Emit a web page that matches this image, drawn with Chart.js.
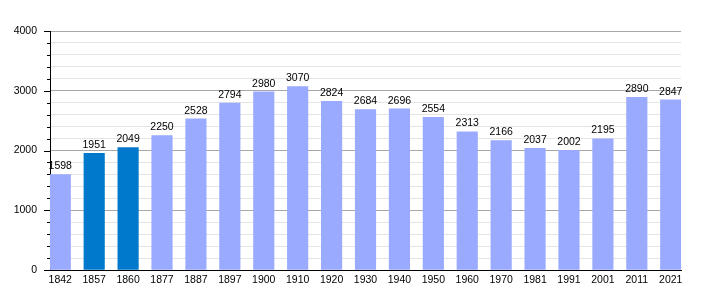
<!DOCTYPE html>
<html>
<head>
<meta charset="utf-8">
<script src="https://cdn.jsdelivr.net/npm/chart.js@4"></script>
<style>
  body { margin: 0; background: #fff; }
  #wrap { width: 710px; height: 300px; }
</style>
</head>
<body>
<div id="wrap"><canvas id="popChart"></canvas></div>
<script>
const years = ['1842', '1857', '1860', '1877', '1887', '1897', '1900', '1910', '1920', '1930',
               '1940', '1950', '1960', '1970', '1981', '1991', '2001', '2011', '2021'];
const population = [1598, 1951, 2049, 2250, 2528, 2794, 2980, 3070, 2824, 2684,
                    2696, 2554, 2313, 2166, 2037, 2002, 2195, 2890, 2847];
const highlightYears = ['1857', '1860'];
const yTicks = [0, 1000, 2000, 3000, 4000];

const half = 0.303; // half bar width in category units, so bars sit flush with the axes
const fontFamily = '"Liberation Sans", Arial, sans-serif';

// value labels above bars
const valueLabels = {
    id: 'valueLabels',
    afterDatasetsDraw(chart) {
        const ctx = chart.ctx;
        const meta = chart.getDatasetMeta(0);
        ctx.save();
        ctx.font = '10.5px ' + fontFamily;
        ctx.fillStyle = '#000';
        ctx.textAlign = 'center';
        ctx.textBaseline = 'bottom';
        meta.data.forEach((bar, i) => {
            ctx.fillText(population[i], bar.x, bar.y - 3);
        });
        ctx.restore();
    }
};

// y axis tick marks: long at 1000s, short in between
const yTickMarks = {
    id: 'yTickMarks',
    afterDraw(chart) {
        const ctx = chart.ctx;
        const y = chart.scales.y;
        const left = chart.chartArea.left;
        ctx.save();
        ctx.strokeStyle = '#000';
        ctx.lineWidth = 1;
        for (let v = 0; v <= 4000; v += 200) {
            const py = Math.round(y.getPixelForValue(v)) + 0.5;
            const len = v % 1000 === 0 ? 6 : 3;
            ctx.beginPath();
            ctx.moveTo(left - len, py);
            ctx.lineTo(left, py);
            ctx.stroke();
        }
        ctx.restore();
    }
};

new Chart(document.getElementById('popChart'), {
    type: 'bar',
    data: {
        datasets: [{
            data: population.map((p, i) => ({ x: i, y: p })),
            backgroundColor: years.map(y => highlightYears.includes(y) ? '#0078cc' : '#99aaff'),
            barThickness: 20.5
        }]
    },
    options: {
        responsive: true,
        maintainAspectRatio: false,
        animation: false,
        layout: { padding: { top: 31, right: 29, left: 0, bottom: 0 } },
        plugins: { legend: { display: false }, tooltip: { enabled: false } },
        scales: {
            x: {
                type: 'linear',
                offset: false,
                min: -half,
                max: years.length - 1 + half,
                grid: { display: false, drawTicks: false },
                border: { display: true, color: '#000', width: 1 },
                ticks: {
                    stepSize: 1,
                    includeBounds: false,
                    autoSkip: false,
                    maxRotation: 0,
                    padding: 4,
                    color: '#000',
                    font: { family: fontFamily, size: 10.5 },
                    callback: v => Number.isInteger(v) ? years[v] : ''
                },
                afterFit: s => { s.height = 30; }
            },
            y: {
                min: 0,
                max: 4000,
                grid: {
                    drawTicks: false,
                    color: c => c.tick && c.tick.value % 1000 === 0 ? '#a8a8a8' : '#e4e4e4'
                },
                border: { display: true, color: '#000', width: 1 },
                ticks: {
                    stepSize: 200,
                    autoSkip: false,
                    padding: 13,
                    color: '#000',
                    font: { family: fontFamily, size: 10.5 },
                    callback: v => yTicks.includes(v) ? v : ''
                },
                afterFit: s => { s.width = 50; }
            }
        }
    },
    plugins: [valueLabels, yTickMarks]
});
</script>
</body>
</html>
